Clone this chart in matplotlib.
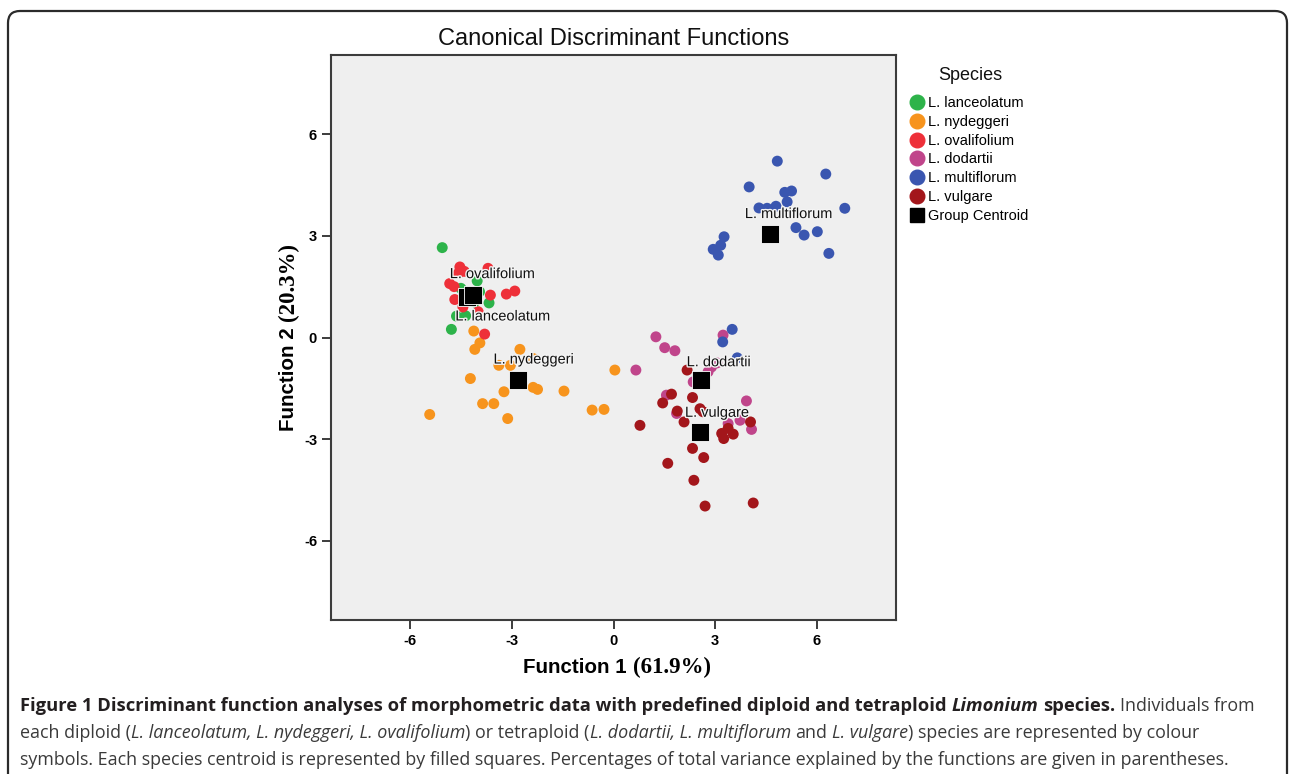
import matplotlib
matplotlib.use('Agg')
import matplotlib.pyplot as plt
from matplotlib.lines import Line2D
from matplotlib.patches import FancyBboxPatch
from matplotlib.transforms import IdentityTransform
import matplotlib.patheffects as pe

# ---------------------------------------------------------#
# Data                     #
# ---------------------------------------------------------#
species = ['L. lanceolatum', 'L. nydeggeri', 'L. ovalifolium',
           'L. dodartii', 'L. multiflorum', 'L. vulgare']
colors  = ['#2db34a', '#f7941d', '#ee3039', '#c0458b', '#3a56b0', '#a3161b']

lanceolatum_x = [-5.05, -4.02, -3.67, -4.63, -4.78, -4.36, -4.50, -4.10, -3.95]
lanceolatum_y = [ 2.65,  1.67,  1.02,  0.63,  0.24,  0.64,  1.45,  1.05,  1.35]

nydeggeri_x = [-4.12, -3.94, -4.09, -2.76, -2.37, -3.38, -3.04, -4.22, -2.37, -2.24,
               -3.23, -1.46, -3.86, -3.53, -5.42, -3.12, -0.63, -0.28,  0.04]
nydeggeri_y = [ 0.19, -0.16, -0.35, -0.35, -0.62, -0.82, -0.82, -1.21, -1.47, -1.53,
               -1.60, -1.58, -1.95, -1.95, -2.27, -2.39, -2.14, -2.12, -0.96]

ovalifolium_x = [-4.53, -3.70, -4.83, -4.58, -3.16, -2.91, -3.63, -4.68, -4.44, -3.80,
                 -3.99, -4.40, -4.70]
ovalifolium_y = [ 2.08,  2.04,  1.59,  1.89,  1.28,  1.37,  1.25,  1.12,  0.90,  0.10,
                  0.76,  1.95,  1.50]

dodartii_x = [1.25, 1.51, 1.81, 0.66, 3.23, 2.79, 2.89, 2.35, 1.56, 1.86,
              3.92, 3.73, 3.38, 4.07, 3.05]
dodartii_y = [0.02, -0.30, -0.39, -0.96, 0.07, -1.01, -0.87, -1.31, -1.70, -2.24,
              -1.87, -2.44, -2.54, -2.71, -0.75]

multiflorum_x = [4.83, 6.26, 4.00, 5.05, 5.25, 5.12, 4.29, 4.53, 4.79, 6.82,
                 5.38, 5.62, 6.01, 6.35, 3.26, 3.16, 2.94, 3.09, 3.50, 3.22, 3.65]
multiflorum_y = [5.20, 4.82, 4.44, 4.28, 4.32, 4.00, 3.82, 3.81, 3.87, 3.81,
                 3.24, 3.02, 3.12, 2.48, 2.97, 2.72, 2.60, 2.43, 0.24, -0.13, -0.60]

vulgare_x = [2.17, 1.71, 1.45, 2.33, 1.88, 2.55, 2.64, 2.08, 0.78, 3.19,
             3.25, 3.53, 3.38, 4.04, 2.33, 2.66, 1.60, 2.37, 2.70, 4.12]
vulgare_y = [-0.96, -1.67, -1.93, -1.77, -2.17, -2.10, -2.19, -2.49, -2.59, -2.83,
             -2.98, -2.85, -2.68, -2.49, -3.27, -3.54, -3.71, -4.21, -4.97, -4.88]

centroid_x = [-4.31, -2.83, -4.15, 2.57, 4.61, 2.55]
centroid_y = [ 1.18, -1.24,  1.25, -1.26, 3.05, -2.78]

ticks = [-6, -3, 0, 3, 6]

xs = [lanceolatum_x, nydeggeri_x, ovalifolium_x, dodartii_x, multiflorum_x, vulgare_x]
ys = [lanceolatum_y, nydeggeri_y, ovalifolium_y, dodartii_y, multiflorum_y, vulgare_y]

# centroid label offsets in pixels (left edge, vertical centre; +down)
label_offsets = {
    'L. lanceolatum': (-12, 19),
    'L. nydeggeri':   (-24, -20),
    'L. ovalifolium': (-23, -21),
    'L. dodartii':    (-14, -18),
    'L. multiflorum': (-25, -20),
    'L. vulgare':     (-15, -19),
}

# ---------------------------------------------------------#
# Figure                                                   #
# ---------------------------------------------------------#
W, H = 1290, 774
plt.rcParams['font.family'] = ['Liberation Sans', 'DejaVu Sans']
plt.rcParams['axes.unicode_minus'] = False
fig = plt.figure(figsize=(W / 100, H / 100), dpi=100)
renderer = fig.canvas.get_renderer()

def fx(px):
    return px / W

def fy(py):
    return 1 - py / H

# outer rounded frame
border = FancyBboxPatch((8, -30), 1279, 774 - 11 + 30,
                        boxstyle='round,pad=0,rounding_size=12',
                        transform=IdentityTransform(), facecolor='none',
                        edgecolor='#2b2b2b', linewidth=1.6)
fig.add_artist(border)

ax = fig.add_axes([fx(331), fy(620), (896 - 331) / W, (620 - 55) / H])
ax.set_facecolor('#efefef')
for s in ax.spines.values():
    s.set_color('#3c3c3c')
    s.set_linewidth(1.5)

for i in range(len(species)):
    ax.scatter(xs[i], ys[i], s=62, color=colors[i], edgecolors='none', zorder=2)

ax.scatter(centroid_x, centroid_y, s=150, marker='s', color='black',
           edgecolors='white', linewidths=0.6, zorder=3)

for i, name in enumerate(species):
    dx, dy = label_offsets[name]
    ax.annotate(name, (centroid_x[i], centroid_y[i]),
                xytext=(dx * 0.72, -dy * 0.72), textcoords='offset points',
                ha='left', va='center', fontsize=10.5, color='#111111', zorder=4,
                path_effects=[pe.withStroke(linewidth=2, foreground='#f4f4f4')])

ax.set_xlim(-8.33, 8.33)
ax.set_ylim(-8.33, 8.33)
ax.set_xticks(ticks)
ax.set_yticks(ticks)
ax.tick_params(direction='out', length=6.5, width=1.4, color='#3c3c3c',
               labelsize=10.5, pad=3.5)
for lab in ax.get_xticklabels() + ax.get_yticklabels():
    lab.set_fontweight('bold')

ax.set_title('Canonical Discriminant Functions', fontsize=17, pad=7, color='#111111')

# axis labels: sans "Function n" + serif percentage
gap = 6
t1 = fig.text(0, 0, 'Function 1', fontsize=14.8, fontweight='bold')
t2 = fig.text(0, 0, '(61.9%)', fontsize=16.5, fontweight='bold', family='Liberation Serif')
w1 = t1.get_window_extent(renderer).width
w2 = t2.get_window_extent(renderer).width
x0 = 617 - (w1 + gap + w2) / 2
t1.set_position((fx(x0), fy(673)))
t2.set_position((fx(x0 + w1 + gap), fy(673)))
for t in (t1, t2):
    t.set_ha('left')
    t.set_va('baseline')

t3 = fig.text(0, 0, 'Function 2', fontsize=14.8, fontweight='bold', rotation=90,
              rotation_mode='anchor')
t4 = fig.text(0, 0, '(20.3%)', fontsize=16.5, fontweight='bold', family='Liberation Serif',
              rotation=90, rotation_mode='anchor')
h3 = t3.get_window_extent(renderer).height
h4 = t4.get_window_extent(renderer).height
y0 = 337 + (h3 + gap + h4) / 2
t3.set_position((fx(294), fy(y0)))
t4.set_position((fx(294), fy(y0 - h3 - gap)))
for t in (t3, t4):
    t.set_ha('left')
    t.set_va('baseline')

# legend
fig.text(fx(970), fy(75), 'Species', fontsize=13, ha='center', va='center', color='#111111')
handles = [Line2D([], [], marker='o', ls='', color=c, markersize=10.5) for c in colors]
handles.append(Line2D([], [], marker='s', ls='', color='black', markersize=9.5))
leg = fig.legend(handles, species + ['Group Centroid'],
                 loc='upper left', bbox_to_anchor=(fx(910), fy(96)),
                 frameon=False, fontsize=10.5,
                 handlelength=1.0, handletextpad=0.2, labelspacing=0.33,
                 borderpad=0, borderaxespad=0)

# ---------------------------------------------------------#
# Caption                                                  #
# ---------------------------------------------------------#
cap_font = 'Open Sans'
dark = '#231f20'
grey = '#3a3a3a'

line1 = [('Figure 1 Discriminant function analyses of morphometric data with predefined diploid and tetraploid', 'bold', 'normal', dark),
         (' Limonium', 'bold', 'italic', dark),
         (' species.', 'bold', 'normal', dark),
         (' Individuals from', 'normal', 'normal', grey)]
line2 = [('each diploid (', 'normal', 'normal', grey),
         ('L. lanceolatum, L. nydeggeri, L. ovalifolium', 'normal', 'italic', grey),
         (') or tetraploid (', 'normal', 'normal', grey),
         ('L. dodartii, L. multiflorum', 'normal', 'italic', grey),
         (' and', 'normal', 'normal', grey),
         (' L. vulgare', 'normal', 'italic', grey),
         (') species are represented by colour', 'normal', 'normal', grey)]
line3 = [('symbols. Each species centroid is represented by filled squares. Percentages of total variance explained by the functions are given in parentheses.', 'normal', 'normal', grey)]

def space_width(size, weight, style):
    a = fig.text(0, 0, 'n n', fontsize=size, fontweight=weight, fontstyle=style, family=cap_font)
    b = fig.text(0, 0, 'nn', fontsize=size, fontweight=weight, fontstyle=style, family=cap_font)
    w = a.get_window_extent(renderer).width - b.get_window_extent(renderer).width
    a.remove()
    b.remove()
    return w

def draw_line(runs, x0, ybase, sizes, draw=True, only=None):
    x = x0
    made = []
    for txt, weight, style, col in runs:
        if only is not None and weight != only:
            continue
        size = sizes[weight]
        if txt.startswith(' '):
            x += space_width(size, weight, style)
            txt = txt[1:]
        t = fig.text(fx(x), fy(ybase), txt, fontsize=size, fontweight=weight,
                     fontstyle=style, color=col, family=cap_font,
                     ha='left', va='baseline')
        x += t.get_window_extent(renderer).width
        made.append(t)
    if not draw:
        for t in made:
            t.remove()
    return x - x0

probe = {'normal': 12, 'bold': 12}
reg_size = 12 * (1228 - 20) / draw_line(line3, 20, 765, probe, draw=False)
sizes = {'normal': reg_size, 'bold': 12}
w_reg = draw_line(line1, 20, 711, sizes, draw=False, only='normal')
w_bold = draw_line(line1, 20, 711, sizes, draw=False, only='bold')
sizes['bold'] = 12 * (1249 - 20 - w_reg) / w_bold
draw_line(line1, 20, 711, sizes)
draw_line(line2, 20, 738, sizes)
draw_line(line3, 20, 765, sizes)

fig.savefig('out.png', dpi=100)
